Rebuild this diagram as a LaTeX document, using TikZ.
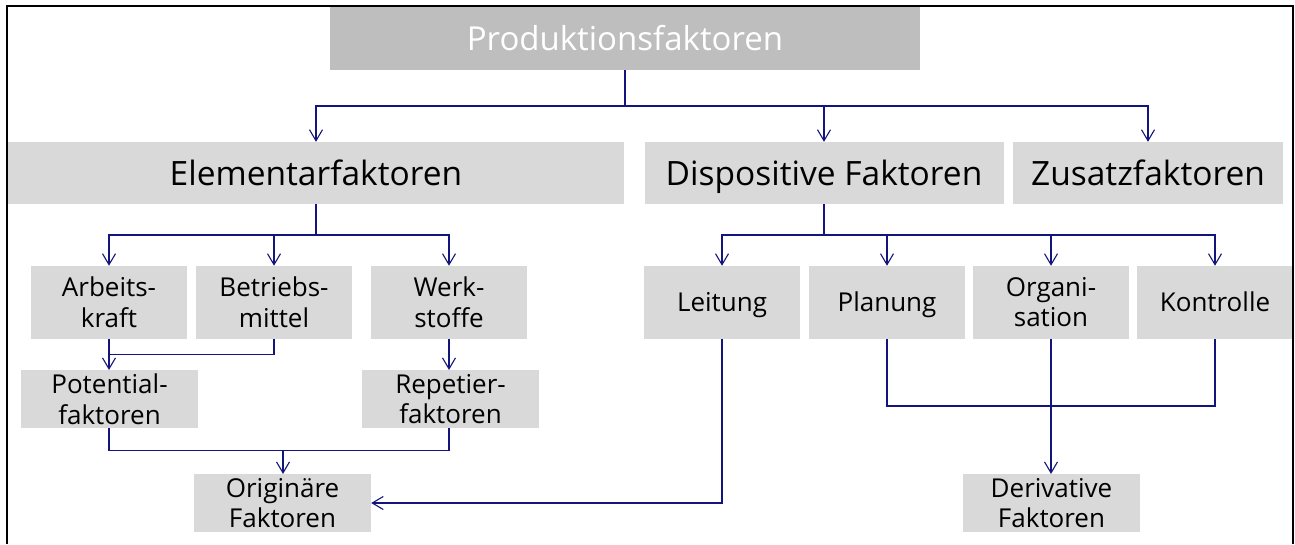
\documentclass[tikz,border=0pt]{standalone}
\usepackage{fontspec}
\setmainfont{Open Sans}
\usetikzlibrary{arrows.meta}
\definecolor{linkblue}{RGB}{20,20,125}
\definecolor{boxgray}{RGB}{217,217,217}
\definecolor{topgray}{RGB}{190,190,190}
\tikzset{
  x=1pt, y=-1pt,
  box/.style={fill=boxgray, draw=none, inner sep=0pt, align=center, text=black},
  bigbox/.style={box, minimum height=62pt, text height=24pt, text depth=0pt,
                 font=\fontsize{33.5}{38}\selectfont},
  midbox/.style={box, minimum width=156pt, minimum height=72.7pt, font=\fontsize{26}{30.5}\selectfont},
  oneline/.style={text height=18.8pt, text depth=0pt},
  lowbox/.style={box, minimum width=177pt, minimum height=57.7pt, font=\fontsize{26}{30.5}\selectfont},
  conn/.style={draw=linkblue, line width=1.3pt},
  arr/.style={conn, -{Straight Barb[length=11pt, width=13pt, line width=1.1pt]}},
}
\begin{document}
\begin{tikzpicture}
\useasboundingbox (0,0) rectangle (1295,544);

% top level
\node[box, fill=topgray, text=white, minimum width=590pt, minimum height=64pt,
      text height=24pt, text depth=0pt,
      font=\fontsize{33}{38}\selectfont] (top) at (625,38) {Produktionsfaktoren};

% second level
\node[bigbox, minimum width=616pt] (elem) at (316,173) {Elementarfaktoren};
\node[bigbox, minimum width=359pt] (disp) at (824,173) {Dispositive Faktoren};
\node[bigbox, minimum width=270pt] (zus)  at (1148,173) {Zusatzfaktoren};

% elementary factors
\node[midbox] (arb)  at (109,302.3) {Arbeits-\\kraft};
\node[midbox] (bet)  at (274,302.3) {Betriebs-\\mittel};
\node[midbox] (werk) at (449,302.3) {Werk-\\stoffe};
\node[lowbox] (pot)  at (109.5,399) {Potential-\\faktoren};
\node[lowbox] (rep)  at (450.5,399) {Repetier-\\faktoren};
\node[lowbox] (orig) at (282.5,503) {Originäre\\Faktoren};

% dispositive factors
\node[midbox, oneline] (leit) at (722,302.3) {Leitung};
\node[midbox, oneline] (plan) at (887,302.3) {Planung};
\node[midbox] (org)  at (1051,302.3) {Organi-\\sation};
\node[midbox, oneline] (kon)  at (1215,302.3) {Kontrolle};
\node[lowbox] (der)  at (1051.5,503) {Derivative\\Faktoren};

% junction points
\coordinate (bus1) at (625,106);
\coordinate (bus2) at (316,235);
\coordinate (bus3) at (824,235);
\coordinate (j1)   at (109,354.7);
\coordinate (bus4) at (283,450.3);
\coordinate (bus5) at (1051,406);

% connectors from the top
\draw[conn] (top.south) -- (bus1);
\draw[arr] (bus1) -| (elem.north);
\draw[arr] (bus1) -| (disp.north);
\draw[arr] (bus1) -| (zus.north);

% elementary branch
\draw[conn] (elem.south) -- (bus2);
\draw[arr] (bus2) -| (arb.north);
\draw[arr] (bus2) -| (bet.north);
\draw[arr] (bus2) -| (werk.north);
\draw[arr] (arb.south) -- (pot.north -| arb.south);
\draw[conn] (bet.south) |- (j1);
\draw[arr] (werk.south) -- (rep.north -| werk.south);
\draw[conn] (pot.south -| j1) |- (bus4) -| (rep.south -| werk.south);
\draw[arr] (bus4) -- (orig.north -| bus4);

% dispositive branch
\draw[conn] (disp.south) -- (bus3);
\draw[arr] (bus3) -| (leit.north);
\draw[arr] (bus3) -| (plan.north);
\draw[arr] (bus3) -| (org.north);
\draw[arr] (bus3) -| (kon.north);
\draw[arr] (leit.south) |- (orig.east);
\draw[conn] (plan.south) |- (bus5) -| (kon.south);
\draw[arr] (org.south) -- (der.north -| org.south);

% frame, open at the bottom
\draw[black, line width=2pt] (6.5,544) -- (6.5,6) -- (1293,6) -- (1293,544);
\end{tikzpicture}
\end{document}
